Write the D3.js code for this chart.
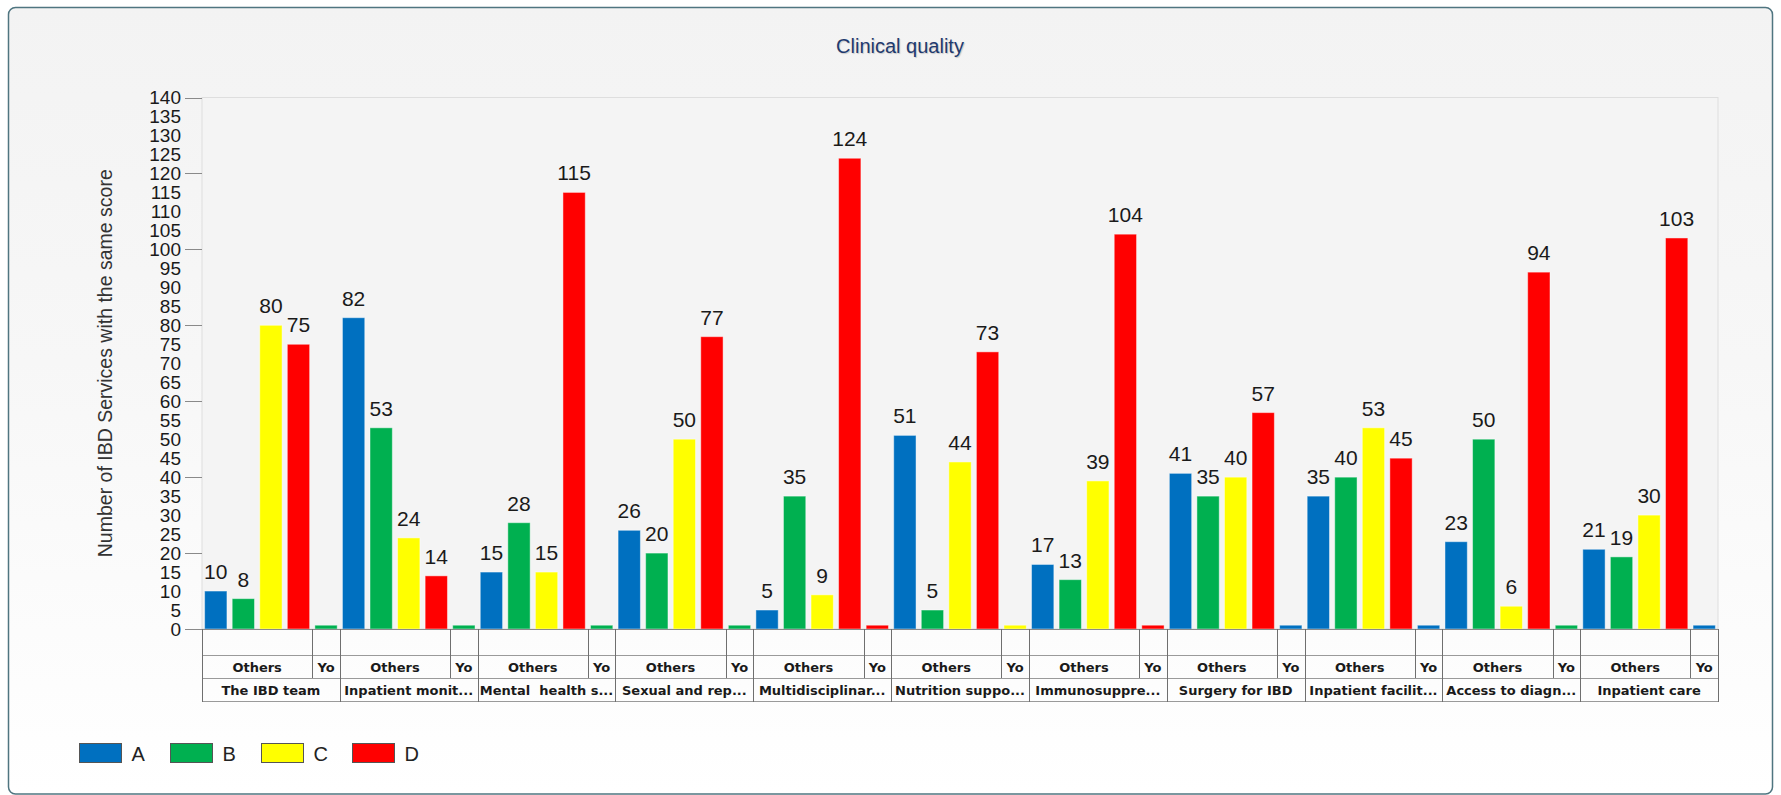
<!DOCTYPE html>
<html>
<head>
<meta charset="utf-8">
<script src="https://cdn.jsdelivr.net/npm/d3@7"></script>
<style>
  body { margin: 0; background: #ffffff; }
  svg { display: block; }
</style>
</head>
<body>
<div id="chart"></div>
<script>
// chart data
const categories = ['The IBD team', 'Inpatient monit...', 'Mental  health s...', 'Sexual and rep...',
  'Multidisciplinar...', 'Nutrition suppo...', 'Immunosuppre...', 'Surgery for IBD',
  'Inpatient facilit...', 'Access to diagn...', 'Inpatient care'];
const scores = ['A', 'B', 'C', 'D'];
const seriesA = [10, 82, 15, 26, 5, 51, 17, 41, 35, 23, 21];
const seriesB = [8, 53, 28, 20, 35, 5, 13, 35, 40, 50, 19];
const seriesC = [80, 24, 15, 50, 9, 44, 39, 40, 53, 6, 30];
const seriesD = [75, 14, 115, 77, 124, 73, 104, 57, 45, 94, 103];
// "Yo" = your own service score for each category
const yoScore = ['B', 'B', 'B', 'B', 'D', 'C', 'D', 'A', 'A', 'B', 'A'];
const yoValue = [1, 1, 1, 1, 1, 1, 1, 1, 1, 1, 1];
const subGroups = ['Others', 'Yo'];
const yTicks = d3.range(0, 141, 5);
const yMajorTicks = d3.range(0, 141, 20);

const colors = {A: '#0070c0', B: '#00b050', C: '#ffff00', D: '#ff0000'};
const series = {A: seriesA, B: seriesB, C: seriesC, D: seriesD};

const W = 1781, H = 795;
const plot = {left: 202, right: 1718, top: 97.5, bottom: 629};
const rows = [629, 655, 678, 701];

const svg = d3.select('#chart')
  .append('svg')
  .attr('width', W)
  .attr('height', H);

// panel background
const defs = svg.append('defs');
const grad = defs.append('linearGradient')
  .attr('id', 'panelGrad')
  .attr('x1', 0).attr('y1', 0).attr('x2', 0).attr('y2', 1);
grad.append('stop').attr('offset', '0%').attr('stop-color', '#f3f3f3');
grad.append('stop').attr('offset', '45%').attr('stop-color', '#f7f7f7');
grad.append('stop').attr('offset', '100%').attr('stop-color', '#ffffff');

svg.append('rect')
  .attr('x', 8.5).attr('y', 7.5)
  .attr('width', 1764).attr('height', 786.5)
  .attr('rx', 7)
  .attr('fill', 'url(#panelGrad)')
  .attr('stroke', '#4f7580')
  .attr('stroke-width', 1.5);

// title
svg.append('text')
  .attr('x', 900).attr('y', 53)
  .attr('text-anchor', 'middle')
  .style('font-family', '"Liberation Sans", Arial, sans-serif')
  .style('font-size', '20px')
  .style('fill', '#1f3a6e')
  .style('text-shadow', '1px 1px 1px rgba(0,0,0,0.18)')
  .text('Clinical quality');

// scales
const y = d3.scaleLinear()
  .domain([0, 140])
  .range([plot.bottom, plot.top]);

const x0 = d3.scaleBand()
  .domain(categories)
  .range([plot.left, plot.right])
  .padding(0);

const slotKeys = scores.concat(['Yo']);
const x1 = d3.scaleBand()
  .domain(slotKeys)
  .range([0, x0.bandwidth()])
  .padding(0);

const barPad = x1.bandwidth() * 0.095;
const barW = x1.bandwidth() - 2 * barPad;

// plot area
svg.append('rect')
  .attr('x', plot.left).attr('y', plot.top)
  .attr('width', plot.right - plot.left)
  .attr('height', plot.bottom - plot.top)
  .attr('fill', '#f4f4f4')
  .attr('stroke', '#dedede')
  .attr('stroke-width', 1);

// y axis
const yAxis = svg.append('g');
yAxis.selectAll('line.major')
  .data(yMajorTicks)
  .enter()
  .append('line')
  .attr('class', 'major')
  .attr('x1', 185).attr('x2', plot.left)
  .attr('y1', d => Math.round(y(d)) + 0.5)
  .attr('y2', d => Math.round(y(d)) + 0.5)
  .style('stroke', '#8a8a8a');

yAxis.selectAll('text')
  .data(yTicks)
  .enter()
  .append('text')
  .attr('x', 181)
  .attr('y', d => y(d))
  .attr('dy', '0.36em')
  .attr('text-anchor', 'end')
  .style('font-family', '"Liberation Sans", Arial, sans-serif')
  .style('font-size', '19px')
  .style('fill', '#1a1a1a')
  .text(d => d);

svg.append('text')
  .attr('transform', 'translate(112,' + ((plot.top + plot.bottom) / 2) + ') rotate(-90)')
  .attr('text-anchor', 'middle')
  .style('font-family', '"Liberation Sans", Arial, sans-serif')
  .style('font-size', '19.5px')
  .style('fill', '#333')
  .text('Number of IBD Services with the same score');

// bars
const groups = svg.selectAll('g.group')
  .data(categories)
  .enter()
  .append('g')
  .attr('class', 'group')
  .attr('transform', d => 'translate(' + x0(d) + ',0)');

groups.each(function (cat, i) {
  const g = d3.select(this);
  const bars = scores.map(k => ({key: k, value: series[k][i]}));

  g.selectAll('rect.bar')
    .data(bars)
    .enter()
    .append('rect')
    .attr('class', 'bar')
    .attr('x', d => x1(d.key) + barPad)
    .attr('y', d => y(d.value))
    .attr('width', barW)
    .attr('height', d => y(0) - y(d.value))
    .style('fill', d => colors[d.key])
    .style('stroke', 'rgba(255,255,255,0.45)')
    .style('stroke-width', 1);

  g.selectAll('text.val')
    .data(bars)
    .enter()
    .append('text')
    .attr('class', 'val')
    .attr('x', d => x1(d.key) + x1.bandwidth() / 2)
    .attr('y', d => y(d.value) - 12)
    .attr('text-anchor', 'middle')
    .style('font-family', '"Liberation Sans", Arial, sans-serif')
    .style('font-size', '21px')
    .style('fill', '#1a1a1a')
    .text(d => d.value);

  // own score bar
  g.append('rect')
    .attr('x', x1('Yo') + barPad)
    .attr('y', y(yoValue[i]))
    .attr('width', barW)
    .attr('height', y(0) - y(yoValue[i]))
    .style('fill', colors[yoScore[i]])
    .style('stroke', 'rgba(255,255,255,0.45)')
    .style('stroke-width', 1);
});

// category table under the axis
const table = svg.append('g');
const tFont = '"DejaVu Sans", Verdana, sans-serif';

// horizontal lines
table.selectAll('line.h')
  .data(rows)
  .enter()
  .append('line')
  .attr('class', 'h')
  .attr('x1', plot.left).attr('x2', plot.right)
  .attr('y1', d => d + 0.5).attr('y2', d => d + 0.5)
  .style('stroke', (d, i) => i === 0 ? '#8a8a8a' : '#9a9a9a');

// group borders
table.selectAll('line.g')
  .data(categories.concat(['end']))
  .enter()
  .append('line')
  .attr('class', 'g')
  .attr('x1', d => Math.round(d === 'end' ? plot.right : x0(d)) + 0.5)
  .attr('x2', d => Math.round(d === 'end' ? plot.right : x0(d)) + 0.5)
  .attr('y1', rows[0]).attr('y2', rows[3] + 1)
  .style('stroke', '#6f6f6f');

// Others / Yo split
table.selectAll('line.s')
  .data(categories)
  .enter()
  .append('line')
  .attr('class', 's')
  .attr('x1', d => Math.round(x0(d) + x1('Yo')) + 0.5)
  .attr('x2', d => Math.round(x0(d) + x1('Yo')) + 0.5)
  .attr('y1', rows[0]).attr('y2', rows[2])
  .style('stroke', '#6f6f6f');

const subCells = [];
categories.forEach(c => {
  subCells.push({label: subGroups[0], x: x0(c) + x1('A'), w: x1.bandwidth() * 4});
  subCells.push({label: subGroups[1], x: x0(c) + x1('Yo'), w: x1.bandwidth()});
});

table.selectAll('text.sub')
  .data(subCells)
  .enter()
  .append('text')
  .attr('class', 'sub')
  .attr('x', d => d.x + d.w / 2)
  .attr('y', 672)
  .attr('text-anchor', 'middle')
  .style('font-family', tFont)
  .style('font-weight', 'bold')
  .style('font-size', '13px')
  .style('fill', '#1a1a1a')
  .text(d => d.label);

table.selectAll('text.cat')
  .data(categories)
  .enter()
  .append('text')
  .attr('class', 'cat')
  .attr('x', d => x0(d) + x0.bandwidth() / 2)
  .attr('y', 695)
  .attr('text-anchor', 'middle')
  .style('font-family', tFont)
  .style('font-weight', 'bold')
  .style('font-size', '13px')
  .style('fill', '#1a1a1a')
  .style('white-space', 'pre')
  .text(d => d);

// legend
const legend = svg.selectAll('g.legend')
  .data(scores)
  .enter()
  .append('g')
  .attr('class', 'legend')
  .attr('transform', (d, i) => 'translate(' + (79.5 + i * 91) + ',743.5)');

legend.append('rect')
  .attr('width', 42).attr('height', 19)
  .style('fill', d => colors[d])
  .style('stroke', '#555')
  .style('stroke-width', 1);

legend.append('text')
  .attr('x', 52).attr('y', 17)
  .style('font-family', '"Liberation Sans", Arial, sans-serif')
  .style('font-size', '20px')
  .style('fill', '#222')
  .text(d => d);
</script>
</body>
</html>
